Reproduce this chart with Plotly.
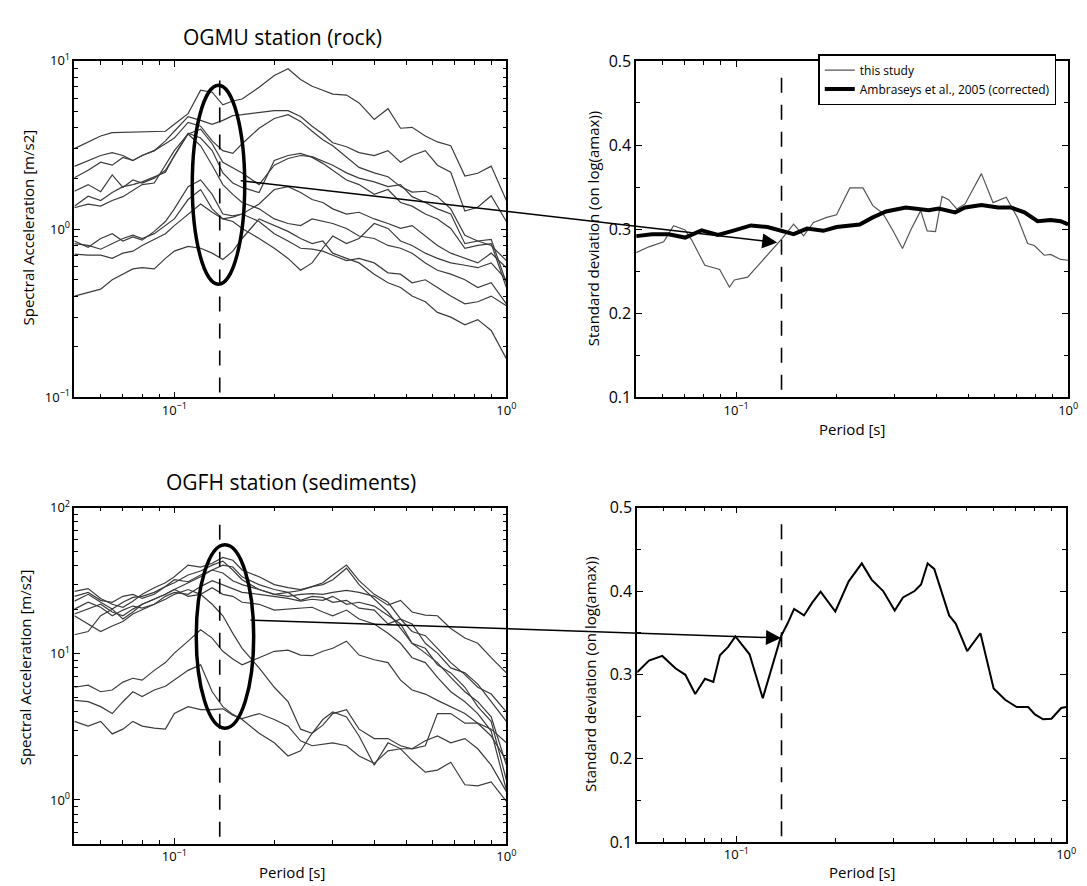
import math
import plotly.graph_objects as go

FONT = "Open Sans"

# ---------------- data ----------------
# Periods (s) used for the response spectra (left panels)
T_sa = [0.05, 0.055, 0.06, 0.065, 0.07, 0.075, 0.08, 0.087, 0.094, 0.1, 0.11, 0.12,
        0.13, 0.14, 0.15, 0.16, 0.18, 0.2, 0.22, 0.24, 0.26, 0.28, 0.3, 0.33, 0.36,
        0.4, 0.44, 0.48, 0.52, 0.57, 0.62, 0.68, 0.75, 0.82, 0.9, 1.0]

# OGMU station (rock) spectral accelerations [m/s2]
ogmu_a = [3.01, 3.30, 3.58, 3.75, 3.77, 3.77, 3.80, 3.82, 3.82, 4.20, 4.86, 6.70, 6.52, 5.48, 5.78, 5.94, 6.97, 8.19,
          8.99, 7.76, 7.07, 6.70, 6.35, 6.27, 5.63, 4.49, 5.20, 3.98, 4.03, 3.58, 3.30, 3.13, 2.07, 2.15, 2.37, 1.48]
ogmu_b = [2.36, 2.56, 2.74, 2.85, 2.74, 2.56, 2.74, 2.93, 3.35, 3.82, 4.67, 4.43, 4.20, 4.43, 4.73, 4.79, 4.92, 5.06,
          5.06, 4.67, 4.09, 3.68, 3.26, 3.09, 2.85, 2.74, 2.93, 2.50, 2.74, 2.93, 2.40, 2.18, 1.28, 1.35, 1.58, 1.11]
ogmu_c = [2.02, 2.24, 2.50, 2.40, 2.67, 2.56, 2.74, 2.93, 3.22, 3.48, 4.31, 4.09, 3.35, 2.93, 2.82, 3.22, 3.98, 4.55,
          4.79, 4.37, 3.82, 3.40, 3.13, 2.67, 2.33, 2.16, 2.05, 1.79, 1.66, 1.68, 1.56, 1.32, 0.92, 0.85, 0.80, 0.65]
ogmu_d = [1.68, 1.84, 1.67, 2.10, 1.77, 1.96, 1.88, 2.01, 2.24, 2.74, 3.68, 3.93, 3.22, 2.50, 2.33, 2.16, 1.84, 2.40,
          2.63, 2.74, 2.70, 2.53, 2.40, 2.16, 2.01, 1.91, 1.79, 1.84, 1.56, 1.44, 1.32, 1.23, 0.82, 0.85, 0.87, 0.48]
ogmu_e = [1.37, 1.57, 1.48, 1.65, 1.79, 1.84, 1.91, 2.05, 2.18, 2.74, 3.72, 3.48, 2.93, 2.16, 1.88, 1.77, 1.65, 2.56,
          2.74, 2.82, 2.67, 2.46, 2.24, 1.96, 1.84, 1.61, 1.72, 1.44, 1.37, 1.23, 1.15, 1.01, 0.77, 0.80, 0.82, 0.45]
ogmu_f = [1.34, 1.41, 1.37, 1.48, 1.56, 1.70, 1.84, 1.88, 2.40, 2.93, 3.68, 3.13, 2.40, 1.84, 1.61, 1.44, 1.32, 1.15,
          1.08, 1.05, 1.15, 1.11, 1.08, 1.01, 0.91, 0.88, 0.80, 0.77, 0.72, 0.63, 0.57, 0.54, 0.50, 0.45, 0.48, 0.36]
ogmu_g = [0.85, 0.78, 0.88, 0.94, 0.85, 0.90, 0.86, 0.97, 1.11, 1.32, 1.79, 1.96, 1.61, 1.23, 1.20, 1.23, 1.41, 1.72,
          1.79, 1.65, 1.50, 1.44, 1.32, 1.23, 1.26, 1.15, 1.08, 1.01, 1.05, 0.91, 0.80, 0.72, 0.67, 0.63, 0.72, 0.59]
ogmu_h = [0.71, 0.70, 0.70, 0.67, 0.72, 0.74, 0.80, 0.87, 0.94, 1.05, 1.23, 1.41, 1.26, 1.15, 1.18, 1.23, 1.11, 0.94,
          0.85, 0.77, 0.76, 0.74, 0.70, 0.65, 0.67, 0.63, 0.55, 0.54, 0.48, 0.50, 0.45, 0.40, 0.36, 0.37, 0.40, 0.35]
ogmu_i = [0.40, 0.42, 0.44, 0.50, 0.54, 0.58, 0.59, 0.58, 0.67, 0.74, 0.79, 0.77, 0.72, 0.66, 0.74, 0.88, 1.15, 1.05,
          0.97, 0.88, 0.82, 0.85, 0.72, 0.67, 0.63, 0.54, 0.48, 0.45, 0.40, 0.37, 0.32, 0.30, 0.27, 0.29, 0.25, 0.17]
ogmu_j = [0.82, 0.80, 0.76, 0.82, 0.88, 0.92, 0.88, 0.94, 1.05, 1.15, 1.50, 1.72, 1.32, 1.15, 1.11, 1.01, 0.88, 0.77,
          0.67, 0.57, 0.63, 0.77, 0.91, 0.82, 0.88, 1.08, 1.01, 0.85, 0.80, 0.72, 0.67, 0.63, 0.61, 0.59, 0.63, 0.50]

# OGFH station (sediments) spectral accelerations [m/s2]
ogfh_1 = [26.7, 27.9, 23.9, 21.8, 20.8, 22.9, 25.5, 28.3, 30.6, 33.6, 40.4, 39.2, 41.6, 45.6, 43.6, 37.4, 33.6, 29.7,
          28.3, 27.5, 28.8, 30.6, 34.6, 40.4, 31.6, 25.5, 22.5, 17.3, 16.0, 11.8, 10.1, 8.0, 7.4, 6.2, 4.7, 3.45]
ogfh_2 = [22.9, 25.5, 22.5, 20.2, 22.5, 24.3, 24.7, 26.3, 28.8, 32.1, 31.1, 34.6, 37.4, 35.7, 31.6, 29.7, 27.5, 25.5,
          24.7, 25.5, 25.8, 25.5, 26.3, 27.1, 26.3, 24.7, 21.5, 23.2, 19.3, 18.4, 18.2, 14.9, 12.8, 11.8, 9.4, 7.4]
ogfh_3 = [18.7, 20.2, 21.8, 19.3, 18.2, 20.2, 21.8, 23.6, 25.5, 27.5, 30.6, 33.6, 37.4, 40.4, 39.2, 33.6, 29.7, 27.5,
          26.3, 27.1, 28.8, 29.7, 32.1, 38.5, 29.7, 23.6, 19.3, 14.9, 11.8, 10.1, 8.7, 6.9, 5.5, 4.7, 3.7, 1.73]
ogfh_4 = [20.2, 22.5, 20.8, 18.2, 19.9, 21.2, 20.5, 21.8, 24.7, 26.3, 25.5, 28.8, 31.6, 29.7, 27.9, 26.3, 25.5, 24.7,
          23.9, 22.9, 23.6, 23.2, 24.7, 21.8, 22.5, 21.2, 18.2, 16.0, 11.8, 10.9, 8.4, 7.4, 5.9, 4.35, 3.45, 1.37]
ogfh_5 = [13.5, 14.2, 18.2, 20.2, 17.3, 19.3, 21.8, 23.6, 25.5, 27.5, 24.7, 25.5, 28.3, 25.5, 24.7, 22.5, 21.8, 19.9,
          20.2, 20.5, 20.8, 19.3, 18.2, 19.9, 17.3, 16.0, 13.8, 11.8, 9.4, 8.7, 6.9, 5.5, 4.7, 3.9, 2.96, 1.17]
ogfh_6 = [5.9, 6.1, 5.5, 5.65, 6.4, 6.8, 6.6, 7.7, 8.7, 10.1, 12.2, 14.6, 12.8, 10.4, 9.2, 8.4, 9.4, 10.4,
          10.6, 9.8, 9.7, 10.4, 10.9, 12.2, 9.8, 9.1, 8.7, 6.6, 5.65, 5.3, 4.8, 4.35, 3.9, 3.35, 2.74, 1.86]
ogfh_7 = [4.8, 4.7, 4.35, 3.9, 4.7, 5.5, 5.1, 5.65, 6.0, 6.6, 7.7, 8.4, 5.5, 4.35, 3.85, 3.55, 2.86, 2.46,
          2.0, 2.17, 2.86, 3.25, 3.9, 4.15, 3.05, 2.63, 2.63, 2.35, 2.24, 2.35, 3.9, 3.9, 3.35, 3.35, 3.05, 2.46]
ogfh_8 = [3.45, 3.2, 3.45, 2.83, 3.05, 3.45, 3.2, 3.1, 3.05, 3.9, 4.35, 4.15, 4.15, 4.2, 3.8, 3.6, 3.9, 3.55,
          3.2, 2.54, 2.35, 2.4, 2.46, 2.35, 2.0, 1.78, 2.17, 2.24, 1.86, 1.55, 1.6, 1.81, 1.27, 1.25, 1.33, 0.98]
ogfh_9 = [18.2, 16.0, 14.2, 15.5, 16.6, 18.7, 19.9, 21.8, 23.6, 25.5, 27.5, 25.5, 21.8, 18.2, 13.8, 10.9, 8.0, 5.9,
          4.7, 3.05, 2.86, 3.55, 4.0, 3.7, 2.74, 1.73, 2.46, 2.24, 2.24, 2.54, 2.74, 2.46, 2.63, 2.24, 1.73, 1.14]
ogfh_10 = [24.7, 26.3, 23.2, 22.5, 24.7, 25.5, 23.9, 25.5, 28.8, 30.6, 34.6, 36.8, 40.4, 43.0, 37.4, 32.1, 27.5, 25.5,
           26.3, 23.2, 24.7, 24.3, 22.5, 23.2, 20.5, 19.9, 16.0, 17.3, 14.2, 13.3, 10.9, 8.7, 7.2, 5.9, 5.3, 4.0]

# OGMU standard deviation: this study
T_this = [0.05, 0.0546, 0.0605, 0.0648, 0.0702, 0.0735, 0.0805, 0.0892, 0.0955, 0.0988, 0.1083, 0.1187, 0.130,
          0.1377, 0.149, 0.1597, 0.171, 0.1875, 0.2007, 0.220, 0.241, 0.258, 0.2764, 0.296, 0.317, 0.3357, 0.3596,
          0.3762, 0.3985, 0.417, 0.4365, 0.462, 0.4892, 0.548, 0.594, 0.651, 0.705, 0.755, 0.791, 0.847, 0.886,
          0.949, 1.0]
sd_this = [0.272, 0.279, 0.285, 0.304, 0.299, 0.287, 0.257, 0.252, 0.231, 0.2395, 0.243, 0.261, 0.279, 0.289, 0.306,
           0.292, 0.308, 0.314, 0.317, 0.349, 0.349, 0.328, 0.319, 0.299, 0.277, 0.299, 0.322, 0.298, 0.297, 0.339,
           0.335, 0.324, 0.330, 0.366, 0.3315, 0.338, 0.313, 0.283, 0.2805, 0.269, 0.270, 0.264, 0.263]

# Ambraseys et al., 2005 (corrected)
T_amb = [0.05, 0.0558, 0.0626, 0.0702, 0.0787, 0.0882, 0.0988, 0.1108, 0.1243, 0.136, 0.149, 0.1635, 0.183, 0.2007,
         0.2356, 0.258, 0.2828, 0.3244, 0.3805, 0.4076, 0.457, 0.4892, 0.548, 0.615, 0.6735, 0.738, 0.809, 0.886,
         0.949, 1.0]
sd_amb = [0.2917, 0.294, 0.294, 0.290, 0.2986, 0.293, 0.2986, 0.3044, 0.3025, 0.298, 0.294, 0.3006, 0.298, 0.3025,
          0.3056, 0.314, 0.321, 0.3257, 0.3226, 0.3245, 0.320, 0.3257, 0.3288, 0.3257, 0.3257, 0.320, 0.3095, 0.311,
          0.3095, 0.3056]

# OGFH standard deviation
T_sed = [0.05, 0.0543, 0.0596, 0.0653, 0.070, 0.075, 0.0803, 0.0851, 0.0891, 0.0944, 0.0993, 0.1096, 0.1202, 0.1365,
         0.1429, 0.1496, 0.1603, 0.170, 0.180, 0.1995, 0.219, 0.240, 0.257, 0.2786, 0.302, 0.320, 0.347, 0.363,
         0.380, 0.398, 0.4416, 0.4624, 0.501, 0.5495, 0.6026, 0.653, 0.708, 0.767, 0.804, 0.851, 0.902, 0.966, 1.0]
sd_sed = [0.303, 0.317, 0.3226, 0.3078, 0.300, 0.2771, 0.2953, 0.2915, 0.3233, 0.3334, 0.3459, 0.3245, 0.272, 0.3459,
          0.3613, 0.3788, 0.371, 0.3866, 0.3994, 0.3757, 0.4118, 0.4332, 0.4138, 0.4002, 0.3769, 0.3925, 0.4002,
          0.408, 0.4332, 0.4266, 0.371, 0.3613, 0.3284, 0.3497, 0.2837, 0.2701, 0.2615, 0.2615, 0.2526, 0.2468,
          0.2475, 0.2603, 0.2615]

# marked period (dashed line) and its vertical extent per panel
T_mark = 0.137
mark_ogmu = [0.107, 8.87]
mark_ogfh = [0.56, 89.8]
mark_sd_top = [0.109, 0.488]
mark_sd_bot = [0.107, 0.489]

# tick positions / labels
x_major = [0.1, 1.0]
x_minor = [0.05, 0.06, 0.07, 0.08, 0.09, 0.2, 0.3, 0.4, 0.5, 0.6, 0.7, 0.8, 0.9]
y_major_ogmu = [0.1, 1, 10]
y_minor_ogmu = [0.2, 0.3, 0.4, 0.5, 0.6, 0.7, 0.8, 0.9, 2, 3, 4, 5, 6, 7, 8, 9]
y_major_ogfh = [1, 10, 100]
y_minor_ogfh = [0.5, 0.6, 0.7, 0.8, 0.9, 2, 3, 4, 5, 6, 7, 8, 9, 20, 30, 40, 50, 60, 70, 80, 90]
sd_major = [0.1, 0.2, 0.3, 0.4, 0.5]
sd_minor = [0.15, 0.25, 0.35, 0.45]


def pow_label(v):
    n = int(round(math.log10(v)))
    s = ("\u2212" + str(-n)) if n < 0 else str(n)
    return "10<sup>" + s + "</sup>"


# ---------------- figure ----------------
fig = go.Figure()
GRAY = "#3c3c3c"

for ys in [ogmu_a, ogmu_b, ogmu_c, ogmu_d, ogmu_e, ogmu_f, ogmu_g, ogmu_h, ogmu_i, ogmu_j]:
    fig.add_trace(go.Scatter(x=T_sa, y=ys, mode="lines", line=dict(color=GRAY, width=1.2),
                             xaxis="x", yaxis="y", showlegend=False, hoverinfo="skip"))
for ys in [ogfh_1, ogfh_2, ogfh_3, ogfh_4, ogfh_5, ogfh_6, ogfh_7, ogfh_8, ogfh_9, ogfh_10]:
    fig.add_trace(go.Scatter(x=T_sa, y=ys, mode="lines", line=dict(color=GRAY, width=1.2),
                             xaxis="x3", yaxis="y3", showlegend=False, hoverinfo="skip"))

fig.add_trace(go.Scatter(x=T_this, y=sd_this, mode="lines", name="this study",
                         line=dict(color="#555555", width=1.2), xaxis="x2", yaxis="y2"))
fig.add_trace(go.Scatter(x=T_amb, y=sd_amb, mode="lines", name="Ambraseys et al., 2005 (corrected)",
                         line=dict(color="black", width=4), xaxis="x2", yaxis="y2"))
fig.add_trace(go.Scatter(x=T_sed, y=sd_sed, mode="lines", line=dict(color="black", width=2),
                         xaxis="x4", yaxis="y4", showlegend=False))

DASH = dict(color="black", width=1.6, dash="15px,12px")
for xa, ya, rng in [("x", "y", mark_ogmu), ("x2", "y2", mark_sd_top),
                    ("x3", "y3", mark_ogfh), ("x4", "y4", mark_sd_bot)]:
    fig.add_trace(go.Scatter(x=[T_mark, T_mark], y=rng, mode="lines", line=DASH,
                             xaxis=xa, yaxis=ya, showlegend=False, hoverinfo="skip"))

axis_common = dict(showline=True, linecolor="black", linewidth=1.5, mirror="allticks",
                   ticks="inside", ticklen=6, tickcolor="black", tickwidth=1,
                   showgrid=False, zeroline=False, tickmode="array")


def minor(vals):
    return dict(tickmode="array", tickvals=vals, ticks="inside", ticklen=4,
                tickcolor="black", tickwidth=1, showgrid=False)


logx = dict(type="log", range=[math.log10(0.05), 0], tickvals=x_major,
            ticktext=[pow_label(v) for v in x_major], minor=minor(x_minor),
            tickfont=dict(family=FONT, size=13, color="black"), **axis_common)
sdy = dict(range=[0.1, 0.5], tickvals=sd_major, ticktext=["0.1", "0.2", "0.3", "0.4", "0.5"],
           minor=minor(sd_minor), tickfont=dict(family=FONT, size=16, color="black"), **axis_common)

W, H = 1087, 886
dxL = [67 / W, 503 / W]
dxR = [634 / W, 1070 / W]
dyT = [1 - 388 / H, 1 - 43 / H]
dyB = [1 - 846 / H, 1 - 501 / H]

fig.update_layout(
    width=W, height=H,
    margin=dict(l=0, r=0, t=0, b=0),
    paper_bgcolor="white", plot_bgcolor="white",
    font=dict(family=FONT, color="black"),
    xaxis=dict(domain=dxL, anchor="y", **logx),
    yaxis=dict(domain=dyT, anchor="x", type="log", range=[-1, 1],
               tickvals=y_major_ogmu, ticktext=[pow_label(v) for v in y_major_ogmu],
               minor=minor(y_minor_ogmu),
               tickfont=dict(family=FONT, size=13, color="black"), **axis_common),
    xaxis2=dict(domain=dxR, anchor="y2", **logx),
    yaxis2=dict(domain=dyT, anchor="x2", **sdy),
    xaxis3=dict(domain=dxL, anchor="y3", **logx),
    yaxis3=dict(domain=dyB, anchor="x3", type="log", range=[math.log10(0.5), 2],
                tickvals=y_major_ogfh, ticktext=[pow_label(v) for v in y_major_ogfh],
                minor=minor(y_minor_ogfh),
                tickfont=dict(family=FONT, size=13, color="black"), **axis_common),
    xaxis4=dict(domain=[635 / W, 1068 / W], anchor="y4", **logx),
    yaxis4=dict(domain=[1 - 844 / H, 1 - 501 / H], anchor="x4", **sdy),
    legend=dict(x=1058 / W, y=1 - 36 / H, xanchor="right", yanchor="top",
                bordercolor="black", borderwidth=1.5, bgcolor="white",
                font=dict(family=FONT, size=12, color="black"),
                tracegroupgap=0, itemwidth=30),
)

# ellipses marking the period of interest
fig.add_shape(type="circle", xref="x", yref="y", x0=10 ** -0.946, x1=10 ** -0.788,
              y0=10 ** -0.3275, y1=10 ** 0.855, line=dict(color="black", width=3.5))
fig.add_shape(type="circle", xref="x3", yref="y3", x0=10 ** -0.934, x1=10 ** -0.761,
              y0=10 ** 0.491, y1=10 ** 1.746, line=dict(color="black", width=3.5))

# arrows from ellipses to the std-dev panels
fig.add_annotation(xref="x2", yref="y2", x=math.log10(0.133), y=0.284, ax=-538, ay=-62,
                   axref="pixel", ayref="pixel", text="", showarrow=True, arrowhead=2,
                   arrowsize=2, arrowwidth=1.5, arrowcolor="black")
fig.add_annotation(xref="x4", yref="y4", x=math.log10(0.1365), y=0.344, ax=-532, ay=-18,
                   axref="pixel", ayref="pixel", text="", showarrow=True, arrowhead=2,
                   arrowsize=2, arrowwidth=1.5, arrowcolor="black")

# titles and axis labels
texts = [
    ("OGMU station (rock)", 277, 18, 21, 0),
    ("OGFH station (sediments)", 286, 475, 21, 0),
    ("Spectral Acceleration [m/s2]", 20, 214, 15, -90),
    ("Spectral Acceleration [m/s2]", 18, 665, 15, -90),
    ("Standard deviation (on log(amax))", 590, 215, 15, -90),
    ("Standard deviation (on log(amax))", 588, 672, 15, -90),
    ("Period [s]", 852, 420, 15, 0),
    ("Period [s]", 287, 875, 15, 0),
    ("Period [s]", 862, 875, 15, 0),
]
for t, px, py, sz, ang in texts:
    fig.add_annotation(xref="paper", yref="paper", x=px / W, y=1 - py / H, text=t,
                       showarrow=False, textangle=ang, xanchor="center", yanchor="middle",
                       font=dict(family=FONT, size=sz, color="black"))

fig.write_html("out.html")
